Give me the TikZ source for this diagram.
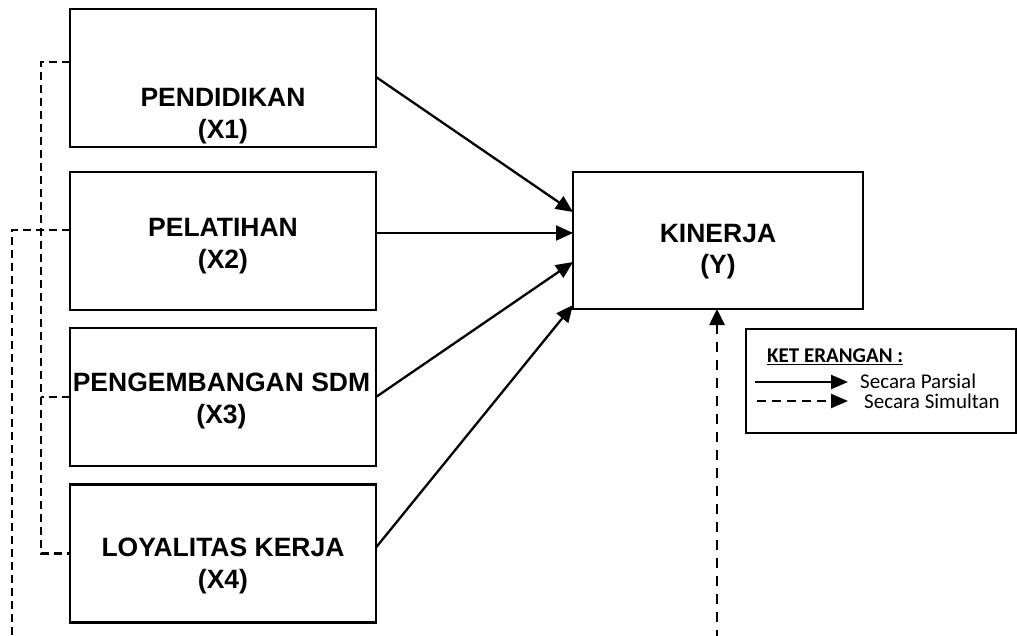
\documentclass[tikz,border=0pt]{standalone}
\usepackage{fontspec}
\setmainfont{Liberation Sans}
\newfontfamily\legendfont{Carlito}
\usetikzlibrary{arrows.meta}

\tikzset{
  varbox/.style={draw, line width=2.3pt, inner sep=0pt, outer sep=0pt,
    minimum width=306pt, minimum height=138pt},
  boxtext/.style={align=center, inner sep=0pt,
    font=\fontsize{26.5}{31.5}\selectfont\bfseries},
  partial/.style={line width=2.3pt, -{Triangle[length=17pt,width=15pt]}},
  simul/.style={line width=2.2pt, dash pattern=on 8pt off 5pt},
  simularrow/.style={line width=2.6pt, dash pattern=on 10pt off 8pt,
    -{Triangle[length=16pt,width=15pt]}},
  legtext/.style={anchor=west, inner sep=0pt,
    font=\legendfont\fontsize{21}{24}\selectfont},
}

\begin{document}
\begin{tikzpicture}[x=1pt, y=-1pt]
\useasboundingbox (0,0) rectangle (1017,636);

% independent variables
\node[varbox] (b1) at (223,78) {};
\node[varbox] (b2) at (223,241) {};
\node[varbox] (b3) at (223,397) {};
\node[varbox] (b4) at (223,553.5) {};
\node[boxtext] (t1) at (223,116) {PENDIDIKAN\\(X1)};
\node[boxtext] (t2) at (223,246) {PELATIHAN\\(X2)};
\node[boxtext] (t3) at (221.5,401) {PENGEMBANGAN SDM\\(X3)};
\node[boxtext] (t4) at (223,566) {LOYALITAS KERJA\\(X4)};

% dependent variable
\node[draw, line width=2.3pt, inner sep=0pt, outer sep=0pt,
  minimum width=290pt, minimum height=137pt] (k) at (718,240.5) {};
\node[boxtext] (tk) at (718,251.5) {KINERJA\\(Y)};

% partial effects
\draw[partial] ([yshift=1pt]b1.east) -- ([yshift=28.5pt]k.west);
\draw[partial] ([yshift=8pt]b2.east) -- ([yshift=7.5pt]k.west);
\draw[partial] (b3.east) -- ([yshift=-21.5pt]k.west);
\draw[partial] ([yshift=6pt]b4.east) -- ([yshift=-64.5pt]k.west);

% simultaneous effect brackets
\coordinate (ltop) at (41,62);
\coordinate (lbot) at (41,553.5);
\coordinate (otop) at (12,230);
\coordinate (obot) at (12,636);
\draw[simul] ([yshift=16pt]b1.west) -- (ltop) -- (lbot) -- (b4.west);
\draw[simul] (b3.west) -- (b3.west -| ltop);
\draw[simul] ([yshift=11pt]b2.west) -- (otop) -- (obot);

\coordinate (kbot) at (717,640);
\draw[simularrow] (kbot) -- (kbot |- k.south);

% legend
\node[draw, line width=2pt, inner sep=0pt, outer sep=0pt,
  minimum width=270pt, minimum height=104pt] (lg) at (880.5,381) {};
\node[legtext, font=\legendfont\bfseries\fontsize{21}{24}\selectfont] (lt) at (767,357) {\underline{KET ERANGAN :}};
\coordinate (la1) at (755,382);
\coordinate (lb1) at (848,382);
\coordinate (la2) at (757,401);
\coordinate (lb2) at (848,401);
\draw[line width=2.3pt, -{Triangle[length=17pt,width=14pt]}] (la1) -- (lb1);
\draw[line width=2.3pt, dash pattern=on 9pt off 6pt, -{Triangle[length=17pt,width=14pt]}] (la2) -- (lb2);
\node[legtext] (lp) at (860,381) {Secara Parsial};
\node[legtext] (ls) at (864,401) {Secara Simultan};
\end{tikzpicture}
\end{document}
